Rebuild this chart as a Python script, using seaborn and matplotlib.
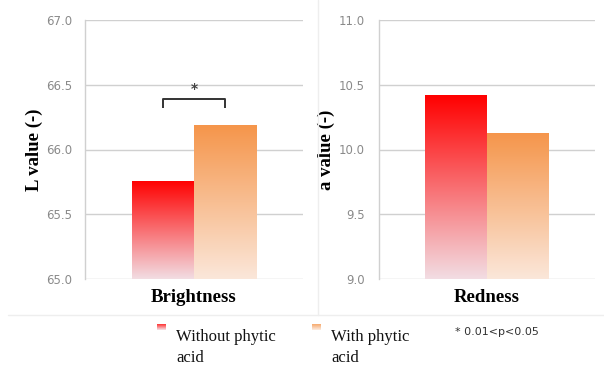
import numpy as np
import pandas as pd
import matplotlib
matplotlib.use("Agg")
import matplotlib.pyplot as plt
from matplotlib.colors import LinearSegmentedColormap
from matplotlib.lines import Line2D
import seaborn as sns

# Measured colour values
treatments = ["Without phytic acid", "With phytic acid"]
brightness = [65.76, 66.19]
redness = [10.42, 10.13]
panel_names = ["Brightness", "Redness"]
y_labels = ["L value (-)", "a value (-)"]
y_ticks_l = [65.0, 65.5, 66.0, 66.5, 67.0]
y_ticks_a = [9.0, 9.5, 10.0, 10.5, 11.0]
legend_lines = [["Without phytic", "acid"], ["With phytic", "acid"]]
sig_note = "* 0.01<p<0.05"

sns.set_theme(style="white")
plt.rcParams["font.family"] = ["DejaVu Sans"]

# gradient (top colour, bottom colour) for each treatment
grad = {
    treatments[0]: ("#ff0000", "#f2dde3"),
    treatments[1]: ("#f5954a", "#fbe7da"),
}
flat = {treatments[0]: "#ff1a1a", treatments[1]: "#f7a060"}

W, H = 604, 367
fig = plt.figure(figsize=(W / 100, H / 100), dpi=100)
fig.patch.set_facecolor("white")


def fx(px):
    return px / W


def fy(py):
    return 1 - py / H


ax1 = fig.add_axes([fx(85), fy(279), fx(303 - 85), (279 - 20) / H])
ax2 = fig.add_axes([fx(379), fy(279), fx(595 - 379), (279 - 20) / H])

panels = [
    (ax1, panel_names[0], brightness, y_ticks_l, y_labels[0], 9),
    (ax2, panel_names[1], redness, y_ticks_a, y_labels[1], 10),
]


def gradient_fill(ax, patch, top, bottom):
    x0, y0 = patch.get_x(), patch.get_y()
    w, h = patch.get_width(), patch.get_height()
    cmap = LinearSegmentedColormap.from_list("g", [bottom, top])
    arr = np.linspace(0, 1, 256).reshape(-1, 1)
    im = ax.imshow(arr, cmap=cmap, origin="lower", aspect="auto",
                   extent=[x0, x0 + w, y0, y0 + h], zorder=3,
                   interpolation="bicubic")
    im.set_clip_path(patch)
    patch.set_facecolor("none")
    patch.set_edgecolor("none")


for ax, name, vals, yt, ylab, pad in panels:
    df = pd.DataFrame({"trait": [name, name], "treatment": treatments, "value": vals})
    lo, hi = yt[0], yt[-1]
    sns.barplot(data=df, x="trait", y="value", hue="treatment",
                hue_order=treatments, palette=flat, width=0.57,
                legend=False, ax=ax, zorder=3)
    # bars start at the axis floor
    for patch, t, v in zip(ax.patches, treatments, vals):
        patch.set_y(lo)
        patch.set_height(v - lo)
        gradient_fill(ax, patch, *grad[t])
    ax.set_xlim(-0.5, 0.5)
    ax.set_ylim(lo, hi)
    ax.set_yticks(yt)
    ax.set_yticklabels([f"{t:.1f}" for t in yt])
    ax.yaxis.grid(True, color="#d0d0d0", linewidth=1.0, zorder=0)
    ax.set_axisbelow(True)
    for s in ["top", "right", "bottom"]:
        ax.spines[s].set_visible(False)
    ax.spines["left"].set_color("#d0d0d0")
    ax.spines["left"].set_linewidth(1.0)
    ax.tick_params(axis="y", length=0, pad=pad, labelsize=8.5, labelcolor="#8a8a8a")
    ax.tick_params(axis="x", length=0, pad=7)
    for lbl in ax.get_xticklabels():
        lbl.set_fontfamily("Liberation Serif")
        lbl.set_fontweight("bold")
        lbl.set_fontsize(13.5)
        lbl.set_color("black")
    ax.set_xlabel("")
    ax.set_ylabel(ylab, fontfamily="Liberation Serif", fontweight="bold",
                  fontsize=13.5, color="black")

ax1.yaxis.set_label_coords(-(85 - 43) / (303 - 85), 0.5)
ax2.yaxis.set_label_coords(-(379 - 335) / (595 - 379), 0.5)

# significance bracket between the two Brightness bars
p_red, p_or = ax1.patches[0], ax1.patches[1]
xa = p_red.get_x() + p_red.get_width() / 2
xb = p_or.get_x() + p_or.get_width() / 2
y_top, y_leg = 66.39, 66.32
ax1.plot([xa, xa, xb, xb], [y_leg, y_top, y_top, y_leg], color="#333333",
         linewidth=1.4, zorder=4, solid_capstyle="butt")
ax1.text((xa + xb) / 2, y_top + 0.025, "*", ha="center", va="bottom",
         fontsize=10, fontweight="bold", color="#444444", zorder=4)

# faint panel borders
fig.add_artist(Line2D([fx(8), 1], [fy(315), fy(315)], color="#eeeeee", linewidth=1))
fig.add_artist(Line2D([fx(318), fx(318)], [fy(315), 1], color="#eeeeee", linewidth=1))

# legend: gradient swatch plus two-line label
for x0, lines, t in [(157, legend_lines[0], treatments[0]),
                     (312, legend_lines[1], treatments[1])]:
    top, bottom = grad[t]
    sw = fig.add_axes([fx(x0), fy(330), fx(9), 6 / H])
    sw.imshow(np.linspace(0, 1, 32).reshape(-1, 1),
              cmap=LinearSegmentedColormap.from_list("s", [top, bottom]),
              aspect="auto", alpha=0.8)
    sw.set_axis_off()
    for i, line in enumerate(lines):
        fig.text(fx(x0 + 19), fy(341 + 21 * i), line, ha="left", va="baseline",
                 fontfamily="Liberation Serif", fontsize=12, color="#111111")
fig.text(fx(455), fy(332), sig_note, ha="left", va="center", fontsize=8,
         color="#333333")

fig.savefig("out.png", dpi=100, facecolor="white")
